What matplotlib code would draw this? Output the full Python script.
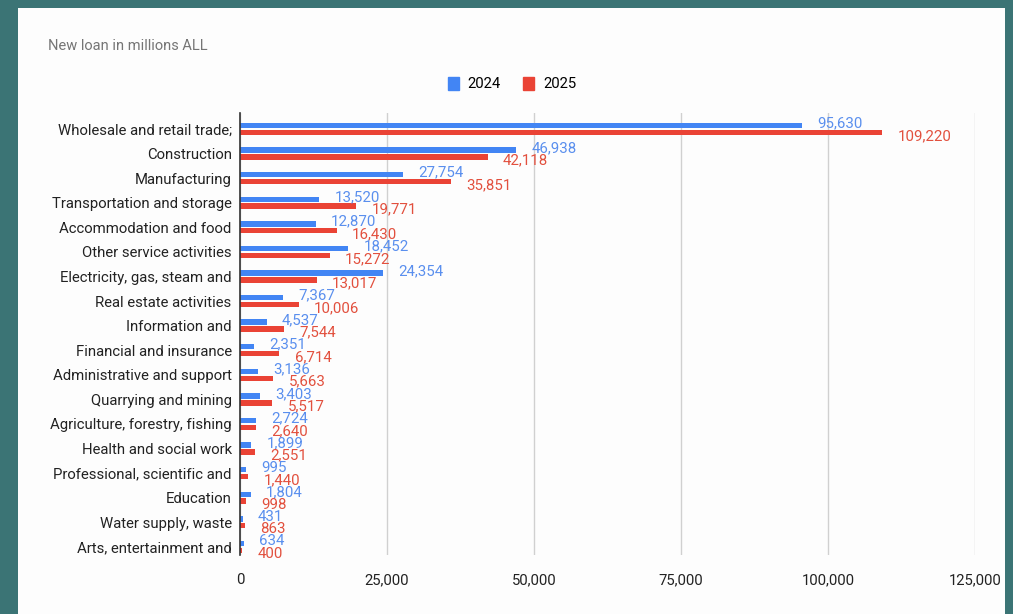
import numpy as np
from matplotlib import pyplot as plt
from matplotlib.patches import Rectangle
from matplotlib.ticker import FuncFormatter

sectors = [
    "Wholesale and retail trade;",
    "Construction",
    "Manufacturing",
    "Transportation and storage",
    "Accommodation and food",
    "Other service activities",
    "Electricity, gas, steam and",
    "Real estate activities",
    "Information and",
    "Financial and insurance",
    "Administrative and support",
    "Quarrying and mining",
    "Agriculture, forestry, fishing",
    "Health and social work",
    "Professional, scientific and",
    "Education",
    "Water supply, waste",
    "Arts, entertainment and",
]
loans_2024 = [95630, 46938, 27754, 13520, 12870, 18452, 24354, 7367, 4537,
              2351, 3136, 3403, 2724, 1899, 995, 1804, 431, 634]
loans_2025 = [109220, 42118, 35851, 19771, 16430, 15272, 13017, 10006, 7544,
              6714, 5663, 5517, 2640, 2551, 1440, 998, 863, 400]
x_ticks = [0, 25000, 50000, 75000, 100000, 125000]

BLUE = "#4285F4"
RED = "#EA4335"
BLUE_TXT = "#5A8FEE"
RED_TXT = "#E2503E"

plt.rcParams['font.family'] = ['Roboto', 'DejaVu Sans']

fig = plt.figure(figsize=(10.13, 6.14), dpi=100)
fig.patch.set_facecolor("#3B7475")

# white card behind the chart
card = fig.add_axes([18 / 1013, 0, 987 / 1013, 1 - 8 / 614], zorder=-10)
card.set_facecolor("#FDFDFD")
card.set_xticks([])
card.set_yticks([])
for s in card.spines.values():
    s.set_visible(False)

ax = fig.add_axes([240 / 1013, 1 - 555 / 614, 735 / 1013, 442 / 614])
ax.set_facecolor("none")

y = np.arange(len(sectors))
h = 0.22
ax.barh(y - 0.14, loans_2024, height=h, color=BLUE, label="2024", zorder=3)
ax.barh(y + 0.14, loans_2025, height=h, color=RED, label="2025", zorder=3)

# value labels just right of each bar end
for yi, v1, v2 in zip(y, loans_2024, loans_2025):
    ax.annotate(f"{v1:,}", (v1, yi - 0.14), xytext=(11, 1.5), textcoords="offset points",
                va="center", ha="left", fontsize=10.8, color=BLUE_TXT, zorder=4)
    ax.annotate(f"{v2:,}", (v2, yi + 0.14), xytext=(11, -2.5), textcoords="offset points",
                va="center", ha="left", fontsize=10.8, color=RED_TXT, zorder=4)

ax.set_xlim(0, 125000)
ax.set_ylim(17.33, -0.65)
ax.set_xticks(x_ticks)
ax.xaxis.set_major_formatter(FuncFormatter(lambda v, p: f"{int(v):,}"))
ax.set_yticks(y)
ax.set_yticklabels(sectors)
ax.tick_params(axis="both", length=0, labelsize=10.7, colors="#222222")
ax.tick_params(axis="x", pad=13)
ax.tick_params(axis="y", pad=6)
ax.grid(axis="x", color="#D0D0D0", linewidth=1, zorder=0)
for s in ["top", "right", "bottom"]:
    ax.spines[s].set_visible(False)
ax.spines["left"].set_color("#333333")
ax.spines["left"].set_linewidth(1.2)
ax.spines["left"].set_zorder(5)

fig.text(48 / 1013, 1 - 46 / 614, "New loan in millions ALL", fontsize=10.5,
         color="#757575", va="center", ha="left")

handles = [Rectangle((0, 0), 1, 1, color=BLUE), Rectangle((0, 0), 1, 1, color=RED)]
fig.legend(handles, ["2024", "2025"], loc="center", bbox_to_anchor=(512 / 1013, 1 - 84 / 614),
           ncol=2, frameon=False, fontsize=10.7, handlelength=0.75, handleheight=1.0,
           handletextpad=0.6, columnspacing=1.5)

fig.savefig("out.png", dpi=100, facecolor=fig.get_facecolor())
